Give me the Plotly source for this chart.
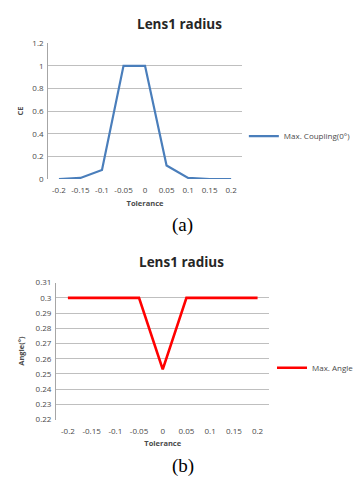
import plotly.graph_objects as go

# Tolerance steps shared by both panels
tolerance = ["-0.2", "-0.15", "-0.1", "-0.05", "0", "0.05", "0.1", "0.15", "0.2"]

# Panel (a): maximum coupling efficiency at 0°
coupling = [0.0, 0.01, 0.08, 1.0, 1.0, 0.12, 0.01, 0.0, 0.0]

# Panel (b): maximum angle
max_angle = [0.3, 0.3, 0.3, 0.3, 0.253, 0.3, 0.3, 0.3, 0.3]

W, H = 359, 492
TXT = "#4a4a4a"
GRID = "#bfbfbf"
FONT = "Open Sans"


def px_x(p):
    return p / W


def px_y(p):
    return 1 - p / H


fig = go.Figure()

fig.add_trace(go.Scatter(
    x=tolerance, y=coupling, mode="lines", name="Max. Coupling(0°)",
    line=dict(color="#4a7ebb", width=2.2), xaxis="x", yaxis="y", legend="legend",
))
fig.add_trace(go.Scatter(
    x=tolerance, y=max_angle, mode="lines", name="Max. Angle",
    line=dict(color="#ff0000", width=2.6), xaxis="x2", yaxis="y2", legend="legend2",
))

tick_font = dict(family=FONT, size=8, color=TXT)
title_font = dict(family=FONT, size=7.5, color=TXT)

common_x = dict(
    type="category", range=[-0.5, 8.5], showgrid=False, showline=False,
    zeroline=False, ticks="", tickfont=tick_font, ticklabelstandoff=5,
    fixedrange=True,
)
common_y = dict(
    showgrid=True, gridcolor=GRID, gridwidth=1, showline=True, linecolor="#a6a6a6",
    linewidth=1, zeroline=False, ticks="", tickfont=tick_font, ticklabelstandoff=2,
    fixedrange=True,
)


def caption(text, x, y, size, family, color, bold=False):
    return dict(text=f"<b>{text}</b>" if bold else text, x=px_x(x), y=px_y(y),
                xref="paper", yref="paper", xanchor="center", yanchor="middle",
                showarrow=False, font=dict(family=family, size=size, color=color))


fig.update_layout(
    width=W, height=H, margin=dict(l=0, r=0, t=0, b=0),
    paper_bgcolor="white", plot_bgcolor="white", showlegend=True,
    xaxis=dict(common_x, domain=[px_x(49), px_x(246)], anchor="y",
               title=dict(text="<b>Tolerance</b>", font=title_font, standoff=6)),
    yaxis=dict(common_y, domain=[px_y(177), px_y(38)], anchor="x", range=[0, 1.2], dtick=0.2,
               title=dict(text="<b>CE</b>", font=title_font, standoff=7)),
    xaxis2=dict(common_x, domain=[px_x(57), px_x(274)], anchor="y2",
                title=dict(text="<b>Tolerance</b>", font=title_font, standoff=6)),
    yaxis2=dict(common_y, domain=[px_y(423), px_y(283)], anchor="x2", range=[0.22, 0.31], dtick=0.01,
                title=dict(text="<b>Angle(°)</b>", font=title_font, standoff=9)),
    legend=dict(x=px_x(248), y=px_y(133), xanchor="left", yanchor="middle",
                font=dict(family=FONT, size=8, color=TXT), bgcolor="rgba(0,0,0,0)",
                itemwidth=30, tracegroupgap=0),
    legend2=dict(x=px_x(277), y=px_y(370), xanchor="left", yanchor="middle",
                 font=dict(family=FONT, size=8, color=TXT), bgcolor="rgba(0,0,0,0)",
                 itemwidth=30, tracegroupgap=0),
    annotations=[
        caption("Lens1 radius", 183, 18, 13.5, FONT, "#262626", bold=True),
        caption("(a)", 186, 224, 19, "Liberation Serif", "black"),
        caption("Lens1 radius", 185, 262, 13.5, FONT, "#262626", bold=True),
        caption("(b)", 186, 471, 19, "Liberation Serif", "black"),
    ],
)

fig.write_html("out.html")
